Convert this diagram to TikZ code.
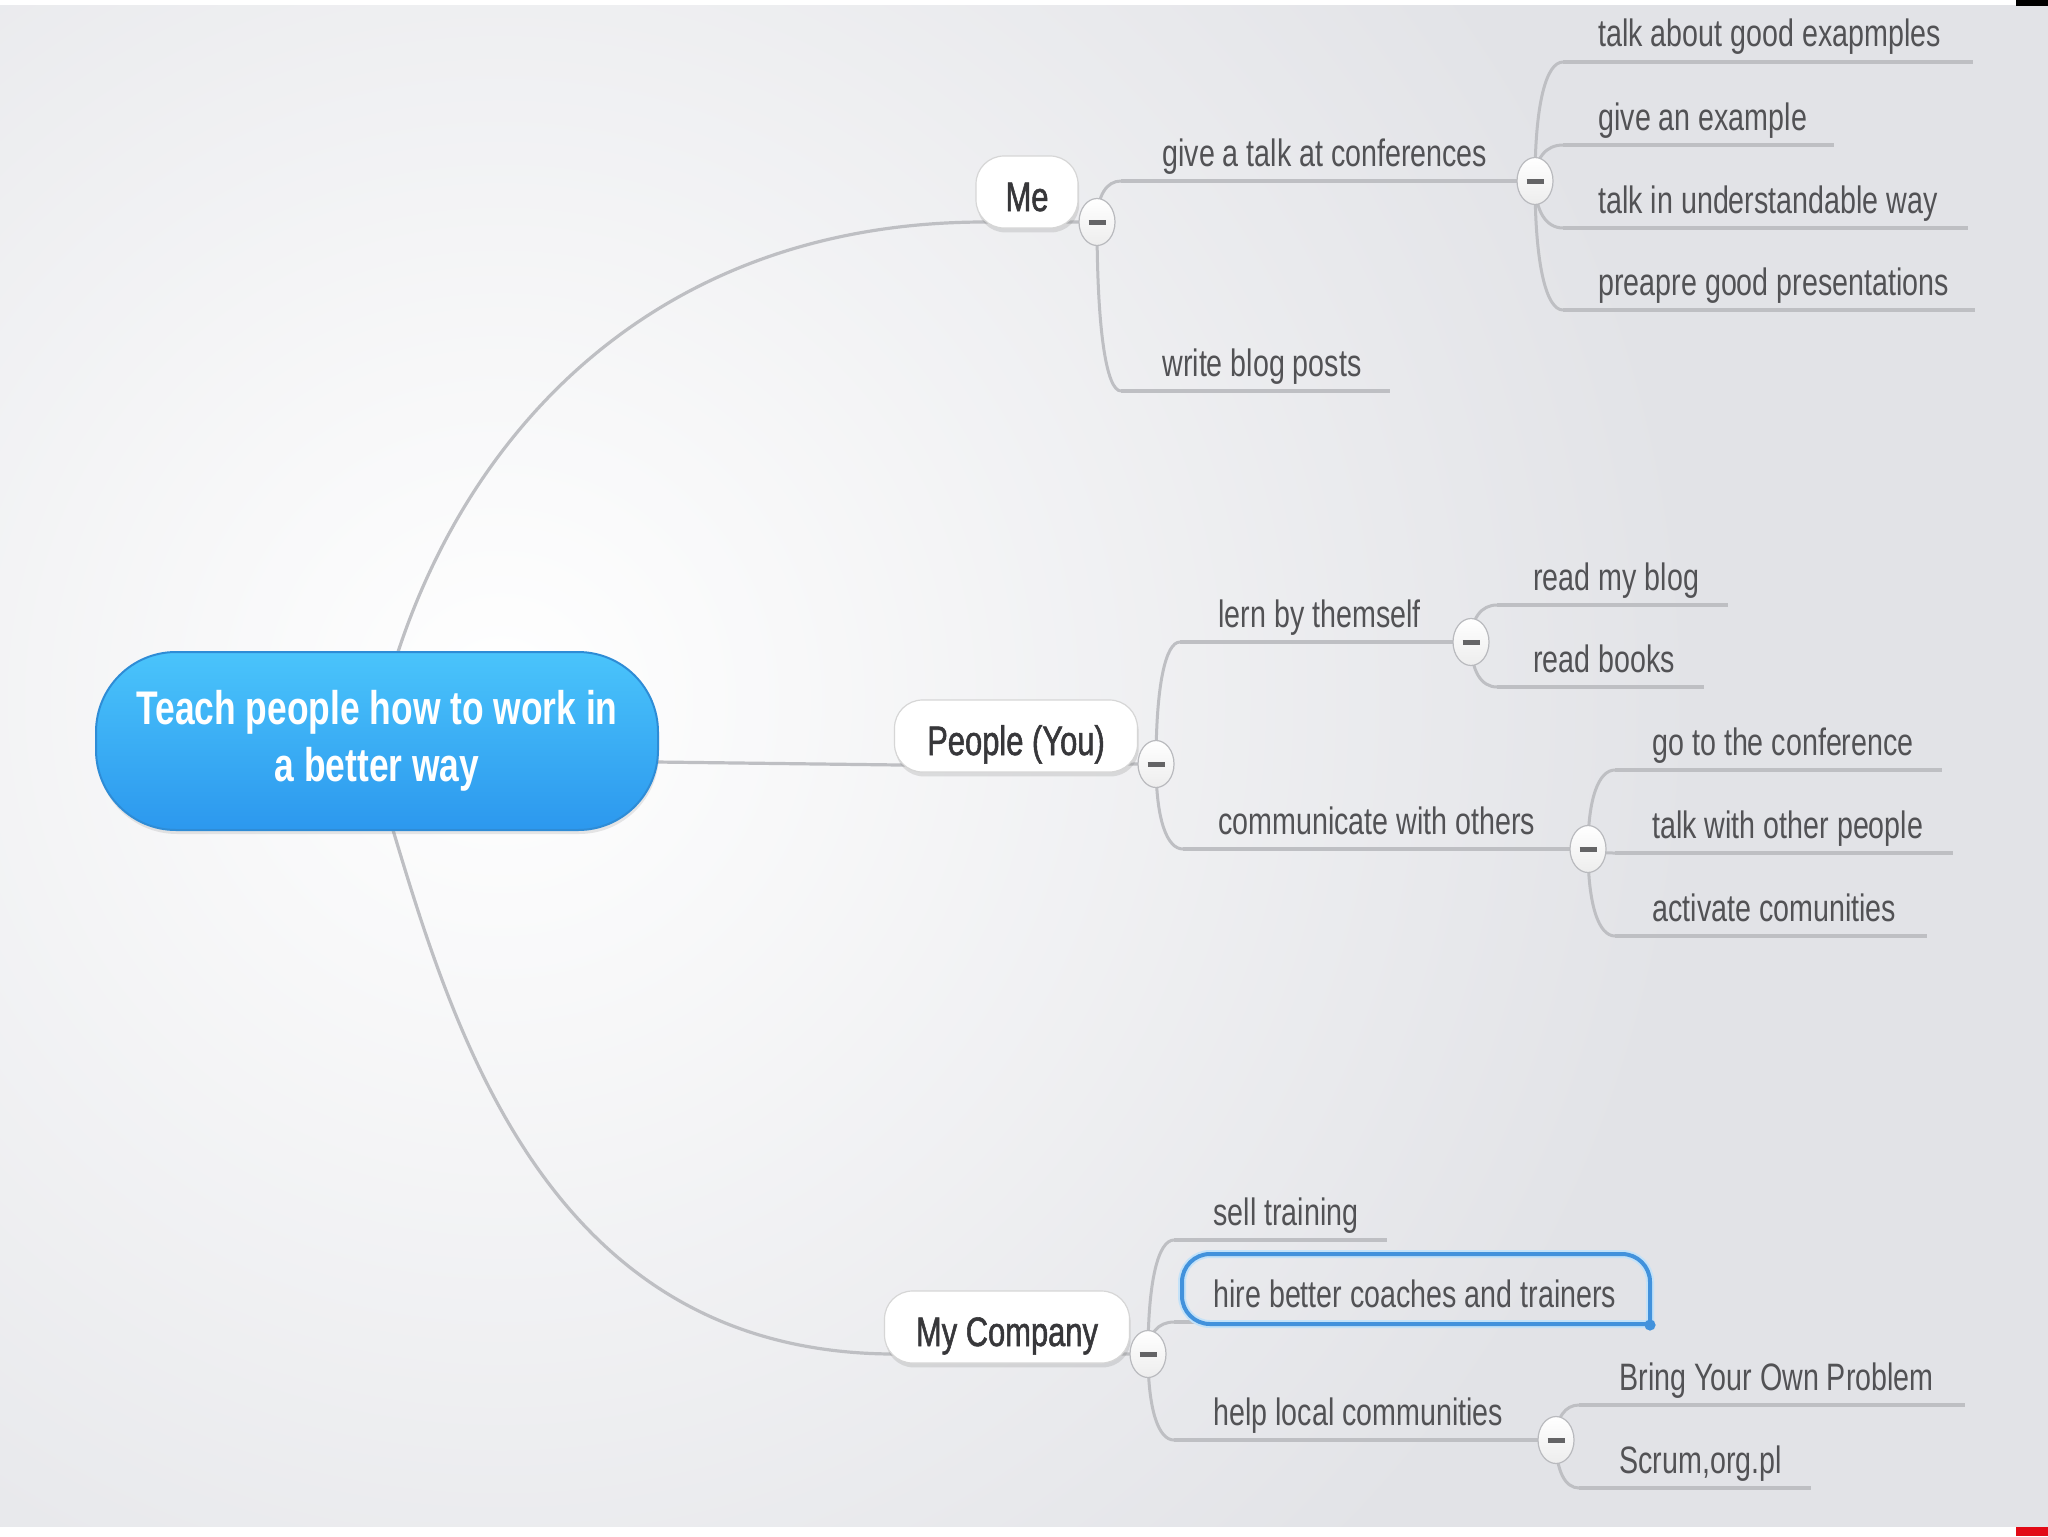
\documentclass[tikz,border=0pt]{standalone}
\usepackage{fontspec}
\setmainfont[FakeStretch=0.75]{Liberation Sans}
\newfontfamily\labfont[FakeStretch=0.75,FakeBold=1.3]{Liberation Sans}
\usetikzlibrary{shapes.geometric,shadows,calc}
\pgfdeclarelayer{bgl}
\pgfdeclarelayer{lines}
\pgfsetlayers{bgl,lines,main}
\definecolor{bgc}{RGB}{226,227,231}
\definecolor{linec}{RGB}{190,191,195}
\definecolor{leafc}{RGB}{82,82,85}
\definecolor{labc}{RGB}{55,55,58}
\definecolor{rootTop}{RGB}{74,196,251}
\definecolor{rootBot}{RGB}{44,152,238}
\definecolor{rootEdge}{RGB}{46,140,214}
\definecolor{selc}{RGB}{66,146,220}
\definecolor{selglow}{RGB}{196,226,248}
\definecolor{btnEdge}{RGB}{185,186,190}
\definecolor{minusc}{RGB}{100,100,102}
\definecolor{markred}{RGB}{226,10,22}
\tikzset{
 leaf/.style={anchor=base west, inner sep=0pt, font=\fontsize{19.1pt}{23pt}\selectfont, text=leafc},
 topic/.style={draw=black!16, line width=0.6pt, fill=white, rounded corners=14pt, minimum height=36pt, inner sep=0pt, text height=19pt, text depth=0pt, font=\labfont\fontsize{20.6pt}{24pt}\selectfont, text=labc, drop shadow={opacity=0.22, shadow xshift=0.6pt, shadow yshift=-2.2pt}},
 rootnode/.style={rounded corners=40pt, minimum width=281pt, minimum height=89pt, inner sep=0pt, top color=rootTop, bottom color=rootBot, draw=rootEdge, line width=1pt, text=white, align=center, font=\bfseries\fontsize{23.6pt}{28.5pt}\selectfont, drop shadow={opacity=0.18, shadow xshift=0.5pt, shadow yshift=-2pt}},
 btn/.style={ellipse, draw=btnEdge, line width=0.6pt, top color=white, bottom color=black!7, minimum width=18pt, minimum height=23.5pt, inner sep=0pt},
 curve/.style={draw=linec, line width=1.5pt},
 uline/.style={draw=linec, line width=2pt},
 conn/.style={draw=linec, line width=1.6pt},
}
\newcommand\minusbar{{\color{minusc}\rule[-1.25pt]{8.5pt}{2.5pt}}}
% #1 button, #2 bx, #3 by, #4 xs, #5 yc, #6 end
\newcommand\twig[6]{%
 \draw[curve] (#1.center) .. controls (#2,{#3+0.65*(#5-#3)}) and ({#4-0.6*(#4-#2)},#5) .. (#4,#5);
 \draw[uline] (#4,#5) -- (#6);}
\begin{document}
\begin{tikzpicture}[x=0.5pt,y=-0.5pt]
\useasboundingbox (0,0) rectangle (2048,1536);
\begin{pgfonlayer}{bgl}
 \fill[bgc] (0,0) rectangle (2048,1536);
 \begin{scope}
  \clip (0,5) rectangle (2048,1527);
  \shade[inner color=white, outer color=bgc] (500,700) circle (1200);
 \end{scope}
 \fill[white] (0,0) rectangle (2048,5);
 \fill[white] (0,1527) rectangle (2048,1536);
 \fill[black] (2016,0) rectangle (2048,6);
 \fill[markred] (2016,1527) rectangle (2048,1536);
\end{pgfonlayer}

% root
\node[rootnode] (root) at (377,741) {Teach people how to work in\\a better way};

% main topics
\node[topic, minimum width=51pt] (me) at (1027,192) {Me};
\node[topic, minimum width=121.5pt] (people) at (1016,736) {People (You)};
\node[topic, minimum width=122.5pt] (company) at (1007,1327) {My Company};

% buttons
\node[btn] (b0) at (1097,222) {\minusbar};
\node[btn] (b2) at (1535,181) {\minusbar};
\node[btn] (bp) at (1156,764) {\minusbar};
\node[btn] (b3) at (1471,642) {\minusbar};
\node[btn] (b4) at (1588,849) {\minusbar};
\node[btn] (bc) at (1148,1354) {\minusbar};
\node[btn] (b5) at (1556,1440) {\minusbar};

% leaves: Me
\node[leaf] (talk) at (1162,166) {give a talk at conferences};
\node[leaf] (blog) at (1162,376) {write blog posts};
\node[leaf] (t1) at (1598,47) {talk about good exapmples};
\node[leaf] (t2) at (1598,130) {give an example};
\node[leaf] (t3) at (1598,213) {talk in understandable way};
\node[leaf] (t4) at (1598,295) {preapre good presentations};
% People
\node[leaf] (lern) at (1218,627) {lern by themself};
\node[leaf] (comm) at (1218,834) {communicate with others};
\node[leaf] (r1) at (1533,590) {read my blog};
\node[leaf] (r2) at (1533,672) {read books};
\node[leaf] (c1) at (1652,755) {go to the conference};
\node[leaf] (c2) at (1652,838) {talk with other people};
\node[leaf] (c3) at (1652,921) {activate comunities};
% My Company
\node[leaf] (sell) at (1213,1225) {sell training};
\node[leaf] (hire) at (1213,1307) {hire better coaches and trainers};
\node[leaf] (help) at (1213,1425) {help local communities};
\node[leaf] (h1) at (1619,1390) {Bring Your Own Problem};
\node[leaf] (h2) at (1619,1473) {Scrum,org.pl};

% selection frame around "hire ..."
\draw[selglow, line width=4pt, rounded corners=14pt] (1650,1324) -- (1650,1254) -- (1182,1254) -- (1182,1324) -- (1650,1324);
\draw[selc, line width=2pt, rounded corners=14pt] (1650,1324) -- (1650,1254) -- (1182,1254) -- (1182,1324) -- (1650,1324);
\fill[selc] (1650,1325) circle (2.8pt);

\begin{pgfonlayer}{lines}
 \coordinate (rt) at (398,652);
 \coordinate (meL) at (985,222);
 \draw[conn] (rt) .. controls (474,421) and (664,222) .. (meL) -- (b0.center);
 \coordinate (rr) at (656,762);
 \coordinate (peL) at (900,765);
 \draw[conn] (rr) -- (peL) -- (bp.center);
 \coordinate (rb) at (393,830);
 \coordinate (mcL) at (895,1354);
 \draw[conn] (rb) .. controls (457,1043) and (554,1354) .. (mcL) -- (bc.center);

 \twig{b0}{1097}{222}{1121}{181}{b2.center}
 \twig{b0}{1097}{222}{1121}{391}{1390,391}
 \twig{b2}{1535}{181}{1563}{62}{1973,62}
 \twig{b2}{1535}{181}{1563}{145}{1834,145}
 \twig{b2}{1535}{181}{1563}{228}{1968,228}
 \twig{b2}{1535}{181}{1563}{310}{1975,310}
 \twig{bp}{1156}{764}{1180}{642}{b3.center}
 \twig{bp}{1156}{764}{1183}{849}{b4.center}
 \twig{b3}{1471}{642}{1497}{605}{1728,605}
 \twig{b3}{1471}{642}{1497}{687}{1704,687}
 \twig{b4}{1588}{849}{1615}{770}{1942,770}
 \twig{b4}{1588}{849}{1615}{853}{1953,853}
 \twig{b4}{1588}{849}{1615}{936}{1927,936}
 \twig{bc}{1148}{1354}{1174}{1240}{1387,1240}
 \twig{bc}{1148}{1354}{1174}{1322}{1200,1322}
 \twig{bc}{1148}{1354}{1174}{1440}{b5.center}
 \twig{b5}{1556}{1440}{1579}{1405}{1965,1405}
 \twig{b5}{1556}{1440}{1579}{1488}{1811,1488}
\end{pgfonlayer}
\end{tikzpicture}
\end{document}
